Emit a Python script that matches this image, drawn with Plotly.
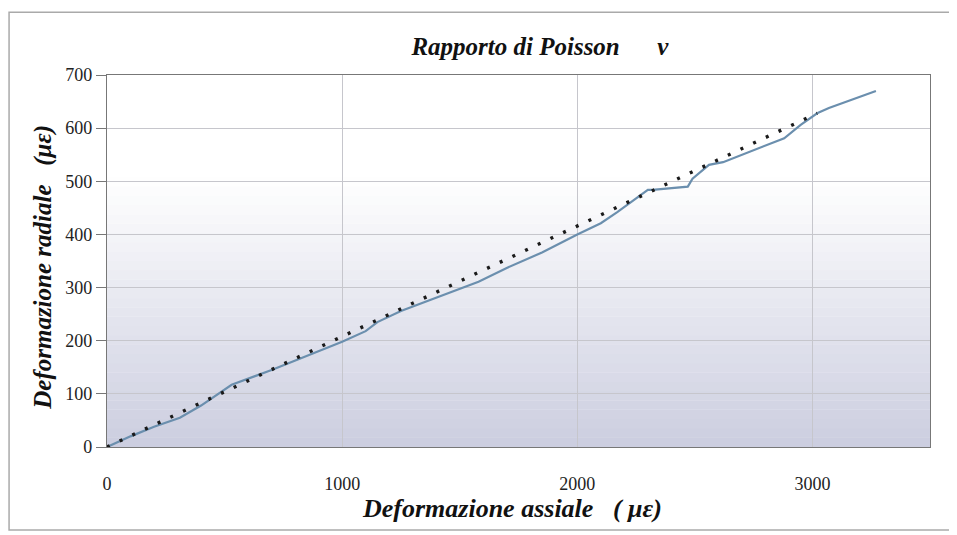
import plotly.graph_objects as go

# Measured curve: axial strain vs radial strain (micro-strain)
axial = [0, 100, 200, 310, 400, 515, 530, 700, 850, 1000, 1100, 1150, 1250, 1400,
         1580, 1700, 1850, 2000, 2100, 2170, 2230, 2300, 2320, 2470, 2490, 2510,
         2560, 2620, 2750, 2880, 2950, 3020, 3070, 3270]
radial = [0, 20, 38, 55, 78, 113, 117, 145, 171, 198, 218, 235, 256, 281,
          311, 337, 366, 400, 421, 442, 462, 484, 484, 490, 505, 512,
          531, 536, 559, 581, 606, 628, 638, 670]

# Linear trend (dotted)
trend_x = [0, 3020]
trend_y = [0, 628]

x_ticks = [0, 1000, 2000, 3000]
y_ticks = [0, 100, 200, 300, 400, 500, 600, 700]

FONT = "Liberation Serif"

fig = go.Figure()

# vertical gradient background in plot area (white at top -> lavender grey at bottom)
n = 40
top = (255, 255, 255)
bot = (204, 206, 224)
for i in range(n):
    f0 = i / n
    f1 = (i + 1) / n
    t = (f0 + f1) / 2
    w = min(1.0, t / 0.72)
    c = tuple(int(bot[k] + (top[k] - bot[k]) * w) for k in range(3))
    fig.add_shape(type="rect", xref="x domain", yref="y domain",
                  x0=0, x1=1, y0=f0, y1=f1 + 0.001,
                  fillcolor=f"rgb{c}", line_width=0, layer="below")

fig.add_trace(go.Scatter(x=axial, y=radial, mode="lines",
                         line=dict(color="#6b8fae", width=2.2),
                         showlegend=False))
fig.add_trace(go.Scatter(x=trend_x, y=trend_y, mode="lines",
                         line=dict(color="#1a1a1a", width=3.4, dash="3px,11px"),
                         showlegend=False))

fig.update_layout(
    width=957, height=535,
    margin=dict(l=99, r=35, t=67, b=96),
    paper_bgcolor="white",
    plot_bgcolor="rgba(0,0,0,0)",
    title=dict(text="<b><i>Rapporto di Poisson      ν</i></b>",
               xref="paper", x=0.526, xanchor="center",
               yref="container", y=0.929, yanchor="middle",
               font=dict(family=FONT, size=25, color="#111")),
    font=dict(family=FONT, size=18, color="#222"),
)

fig.update_xaxes(range=[0, 3500], tickvals=x_ticks, ticks="outside", ticklen=20,
                 tickcolor="rgba(0,0,0,0)", showgrid=True,
                 gridcolor="#c6c6cc", gridwidth=1, zeroline=False,
                 showline=True, linecolor="#777", linewidth=1.2, mirror=True,
                 tickfont=dict(family=FONT, size=18, color="#222"))
fig.update_yaxes(range=[0, 700], tickvals=y_ticks, ticks="outside", ticklen=10,
                 tickcolor="#777", showgrid=True, gridcolor="#c6c6cc", gridwidth=1,
                 zeroline=False, showline=True, linecolor="#777", linewidth=1.2,
                 mirror=True,
                 tickfont=dict(family=FONT, size=18, color="#222"))

# axis titles
fig.add_annotation(text="<b><i>Deformazione assiale   ( με)</i></b>",
                   xref="paper", yref="paper", x=0.492, y=-0.164,
                   xanchor="center", yanchor="middle", showarrow=False,
                   font=dict(family=FONT, size=26, color="#111"))
fig.add_annotation(text="<b><i>Deformazione radiale   (με)</i></b>",
                   xref="paper", yref="paper", x=-0.078, y=0.484,
                   xanchor="center", yanchor="middle", showarrow=False,
                   textangle=-90,
                   font=dict(family=FONT, size=25, color="#111"))

# outer chart frame
fig.add_shape(type="rect", xref="paper", yref="paper", x0=-0.119, x1=1.024,
              y0=-0.223, y1=1.169, line=dict(color="#aaa", width=1.5),
              fillcolor="rgba(0,0,0,0)", layer="below")

fig.write_html("out.html")
